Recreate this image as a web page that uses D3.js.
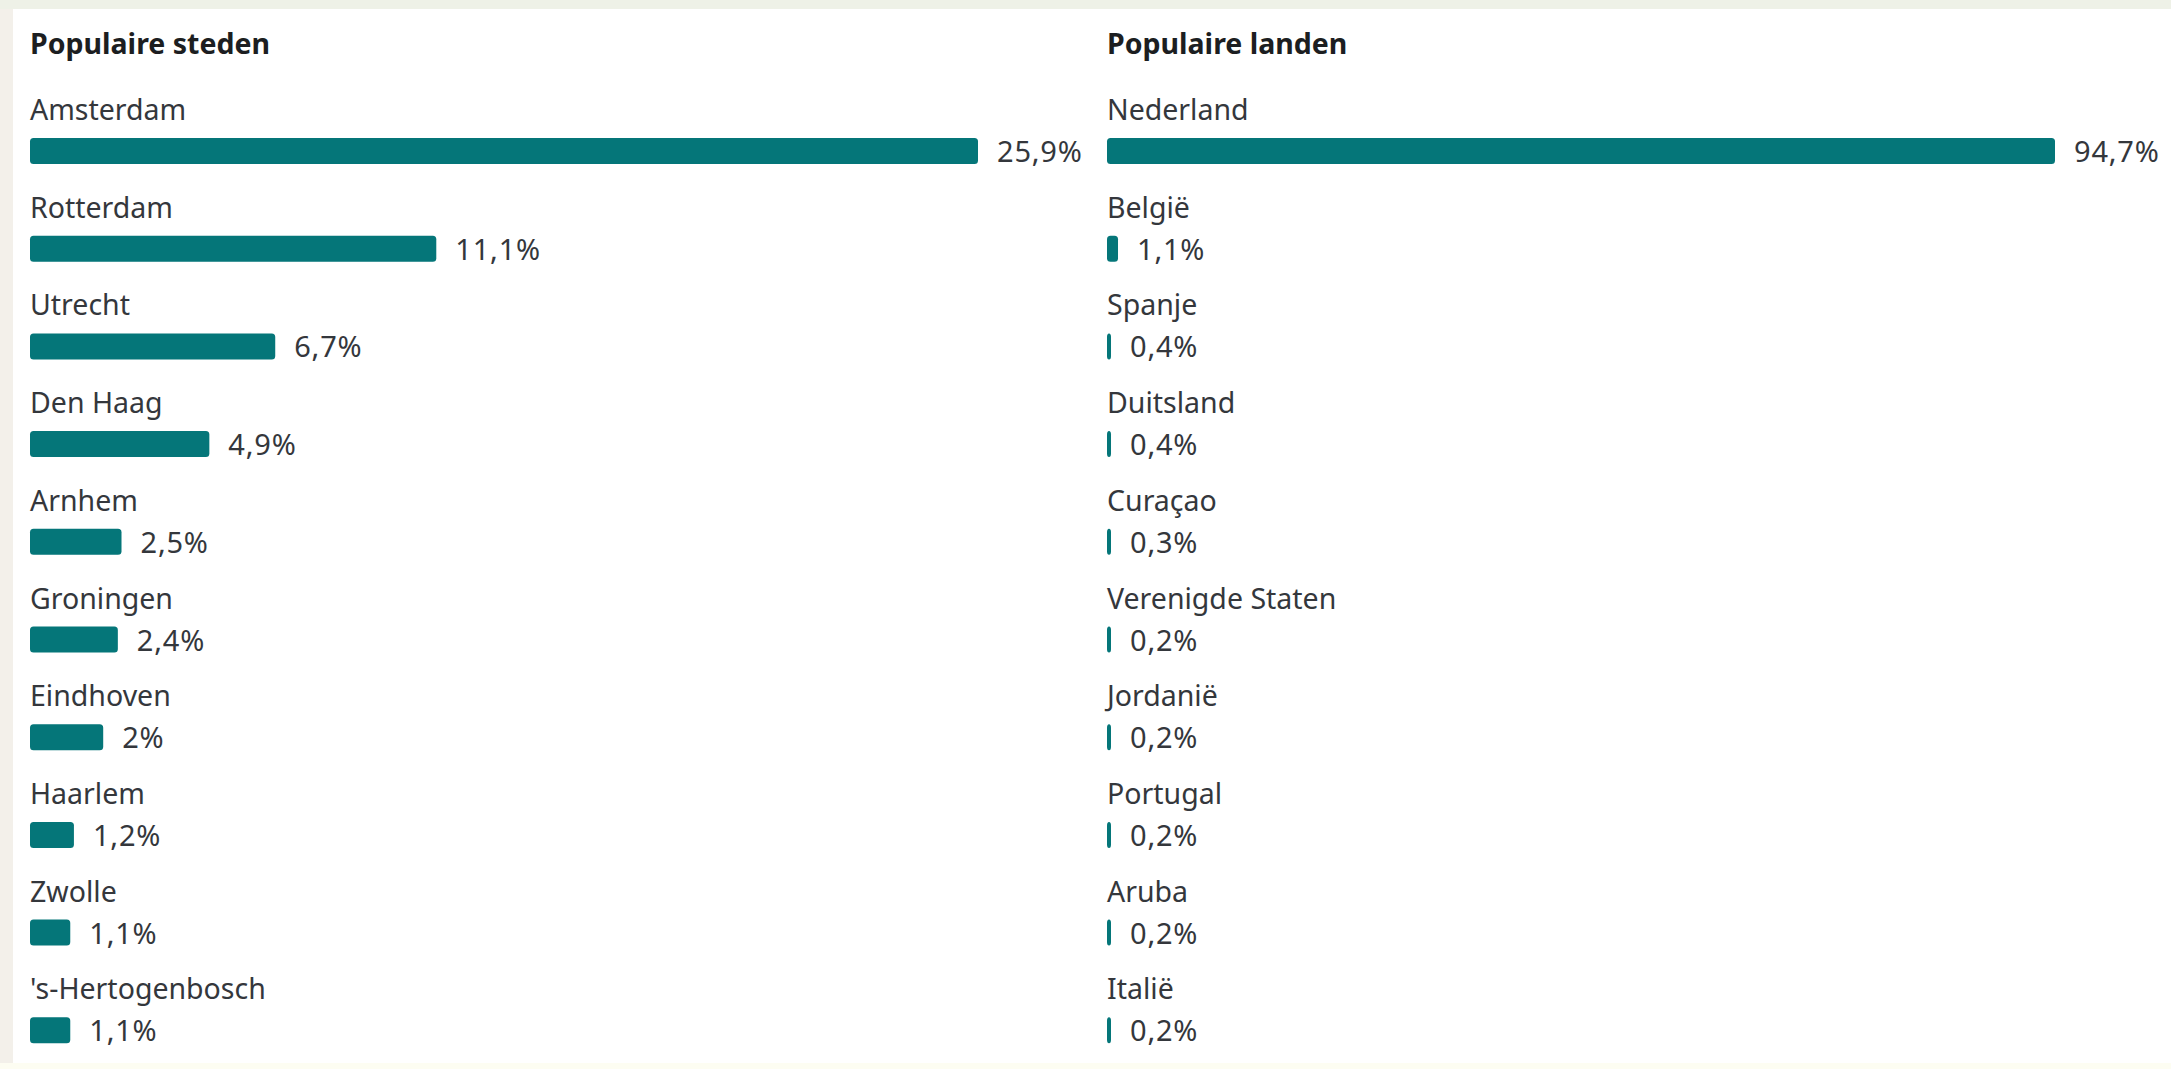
<!DOCTYPE html>
<head>
    <meta charset=utf-8>
    <title>Populaire steden en landen</title>
    <script src="https://d3js.org/d3.v7.min.js"></script>
</head>
<style>
    body {
        margin: 0;
        background: #f3f0ea;
    }
    text {
        font-family: "Noto Sans", sans-serif;
        fill: #34373c;
    }
    .title {
        font-weight: bold;
        fill: #1c1e21;
    }
    .value {
        letter-spacing: 0.8px;
    }
    .bar {
        fill: #057679;
    }
</style>
<body>
<div id="chart"></div>
<script type="text/javascript">
    var cities = ["Amsterdam", "Rotterdam", "Utrecht", "Den Haag", "Arnhem",
                  "Groningen", "Eindhoven", "Haarlem", "Zwolle", "'s-Hertogenbosch"],
        cityValues = [25.9, 11.1, 6.7, 4.9, 2.5, 2.4, 2, 1.2, 1.1, 1.1];

    var countries = ["Nederland", "België", "Spanje", "Duitsland", "Curaçao",
                     "Verenigde Staten", "Jordanië", "Portugal", "Aruba", "Italië"],
        countryValues = [94.7, 1.1, 0.4, 0.4, 0.3, 0.2, 0.2, 0.2, 0.2, 0.2];

    var svg_dx = 2171,
        svg_dy = 1069,
        bar_dx = 948,
        bar_dy = 26;

    var fmt = v => String(v).replace(".", ",") + "%";

    var svg = d3.select("#chart")
            .append("svg")
            .attr("width", svg_dx)
            .attr("height", svg_dy);

    // page background strips + white card
    svg.append("rect").attr("width", svg_dx).attr("height", svg_dy).attr("fill", "#f3f0ea");
    svg.append("rect").attr("width", svg_dx).attr("height", 9).attr("fill", "#eef1e7");
    svg.append("rect").attr("y", 1063).attr("width", svg_dx).attr("height", 6).attr("fill", "#fdfdf2");
    svg.append("rect").attr("x", 13).attr("y", 9)
        .attr("width", svg_dx - 13).attr("height", 1054).attr("fill", "#ffffff");

    function panel(x0, title, names, values) {
        var g = svg.append("g").attr("transform", "translate(" + x0 + ",0)");

        var x = d3.scaleLinear().domain([0, d3.max(values)]).range([0, bar_dx]),
            y = d3.scaleBand().domain(names).range([76, 76 + 97.7 * names.length]);

        var rows = names.map((n, i) => ({name: n, value: values[i]}));

        g.append("text")
            .attr("class", "title")
            .attr("x", 0)
            .attr("y", 54)
            .style("font-size", "28.5px")
            .text(title);

        var row = g.selectAll("g.row")
                .data(rows)
                .enter()
                .append("g")
                .attr("class", "row")
                .attr("transform", d => "translate(0," + y(d.name) + ")");

        row.append("text")
            .attr("x", 0)
            .attr("y", 44)
            .style("font-size", "28.5px")
            .text(d => d.name);

        row.append("rect")
            .attr("class", "bar")
            .attr("x", 0)
            .attr("y", 62)
            .attr("rx", 3.5)
            .attr("height", bar_dy)
            .attr("width", d => Math.max(4, x(d.value)));

        row.append("text")
            .attr("class", "value")
            .attr("x", d => Math.max(4, x(d.value)) + 19)
            .attr("y", 86)
            .style("font-size", "29px")
            .text(d => fmt(d.value));
    }

    panel(30, "Populaire steden", cities, cityValues);
    panel(1107, "Populaire landen", countries, countryValues);
</script>
</body>
